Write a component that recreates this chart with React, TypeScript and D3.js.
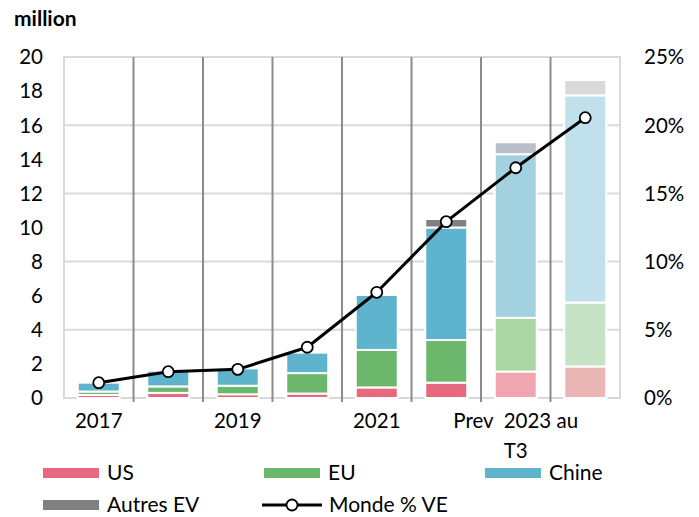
import React from "react";
import * as d3 from "d3";

const categories = ["2017", "2018", "2019", "2020", "2021", "2022", "Prev 2023", "2023 au T3"];
const tickLabels = [["2017"], [], ["2019"], [], ["2021"], [], ["Prev\u00a0\u00a02023 au", "T3"], []];
const us = [0.18, 0.3, 0.22, 0.26, 0.62, 0.9, 1.55, 1.85];
const eu = [0.2, 0.38, 0.5, 1.2, 2.2, 2.5, 3.15, 3.75];
const chine = [0.52, 0.92, 1.02, 1.2, 3.22, 6.6, 9.6, 12.15];
const autres = [0, 0, 0, 0, 0, 0.5, 0.7, 0.9];
const mondePct = [1.12, 1.93, 2.1, 3.72, 7.75, 12.93, 16.88, 20.55];
const leftTicks = [0, 2, 4, 6, 8, 10, 12, 14, 16, 18, 20];
const rightTicks = [0, 5, 10, 15, 20, 25];

const seriesNames = ["US", "EU", "Chine", "Autres EV"];
const baseColors = ["#E8697D", "#6BB76C", "#5DB4CC", "#808080"];
const prevColors = ["#F1A5B0", "#A9D6A3", "#A2D2E0", "#B9BECB"];
const t3Colors = ["#E9B5B5", "#C5E2C5", "#C0E1EB", "#D9D9D9"];

const FONT = "Lato, 'Open Sans', sans-serif";

export default function App() {
  const W = 699, H = 517;
  const x0 = 64, x1 = 620, yTop = 57, yBot = 398;
  const x = d3.scaleBand<string>().domain(categories).range([x0, x1]).paddingInner(0.396).paddingOuter(0.198);
  const yL = d3.scaleLinear().domain([0, 20]).range([yBot, yTop]);
  const yR = d3.scaleLinear().domain([0, 25]).range([yBot, yTop]);
  const step = x.step();

  const table = categories.map((c, i) => ({ cat: c, US: us[i], EU: eu[i], Chine: chine[i], "Autres EV": autres[i] }));
  const stacked = d3.stack<any>().keys(seriesNames)(table);
  const colorFor = (s: number, i: number) => (i === 6 ? prevColors[s] : i === 7 ? t3Colors[s] : baseColors[s]);

  const line = d3.line<number>()
    .x((_, i) => (x(categories[i]) as number) + x.bandwidth() / 2)
    .y((d) => yR(d));

  const gridVals = rightTicks.slice(1, -1);

  return (
    <svg width={W} height={H} style={{ position: "absolute", left: 0, top: 0, background: "#fff" }} fontFamily={FONT}>
      <text x={14} y={26} fontSize={21} fontWeight="bold" fill="#000">million</text>
      {gridVals.map((v) => (
        <line key={v} x1={x0} x2={x1} y1={yR(v)} y2={yR(v)} stroke="#D9D9D9" strokeWidth={2} />
      ))}
      <rect x={x0} y={yTop} width={x1 - x0} height={yBot - yTop} fill="none" stroke="#D9D9D9" strokeWidth={2} />
      {categories.slice(1).map((c, i) => (
        <line key={c} x1={x0 + step * (i + 1)} x2={x0 + step * (i + 1)} y1={yTop} y2={yBot + 4} stroke="#8C8C8C" strokeWidth={2} />
      ))}
      {stacked.map((layer, s) => (
        <g key={seriesNames[s]}>
          {layer.map((d, i) => {
            const h = yL(d[0]) - yL(d[1]);
            if (h <= 0) return null;
            return (
              <rect key={i} x={x(categories[i])} y={yL(d[1])} width={x.bandwidth()} height={h}
                fill={colorFor(s, i)} stroke="#fff" strokeWidth={2} />
            );
          })}
        </g>
      ))}
      <path d={line(mondePct) as string} fill="none" stroke="#000" strokeWidth={3} strokeLinejoin="round" />
      {mondePct.map((v, i) => (
        <circle key={i} cx={(x(categories[i]) as number) + x.bandwidth() / 2} cy={yR(v)} r={5.5} fill="#fff" stroke="#000" strokeWidth={1.8} />
      ))}
      {leftTicks.map((t) => (
        <text key={t} x={43} y={yL(t)} dy="0.36em" textAnchor="end" fontSize={20.5} fill="#000">{t}</text>
      ))}
      {rightTicks.map((t) => (
        <text key={t} x={644} y={yR(t)} dy="0.36em" textAnchor="start" fontSize={20.5} fill="#000">{t}%</text>
      ))}
      {tickLabels.map((lines, i) =>
        lines.map((l, j) => (
          <text key={i + "-" + j} x={(x(categories[i]) as number) + x.bandwidth() / 2} y={428 + j * 30}
            textAnchor="middle" fontSize={20.5} fill="#000">{l}</text>
        ))
      )}
      {[
        { name: "US", c: baseColors[0], lx: 43, ly: 473 },
        { name: "EU", c: baseColors[1], lx: 264, ly: 473 },
        { name: "Chine", c: baseColors[2], lx: 485, ly: 473 },
        { name: "Autres EV", c: baseColors[3], lx: 43, ly: 505 },
      ].map((e) => (
        <g key={e.name}>
          <rect x={e.lx} y={e.ly - 5} width={56} height={10} fill={e.c} />
          <text x={e.lx + 64} y={e.ly} dy="0.34em" fontSize={21} fill="#000">{e.name}</text>
        </g>
      ))}
      <g>
        <line x1={262} x2={322} y1={505} y2={505} stroke="#000" strokeWidth={3} />
        <circle cx={292} cy={505} r={5.5} fill="#fff" stroke="#000" strokeWidth={1.8} />
        <text x={329} y={505} dy="0.34em" fontSize={21} fill="#000">Monde % VE</text>
      </g>
    </svg>
  );
}
